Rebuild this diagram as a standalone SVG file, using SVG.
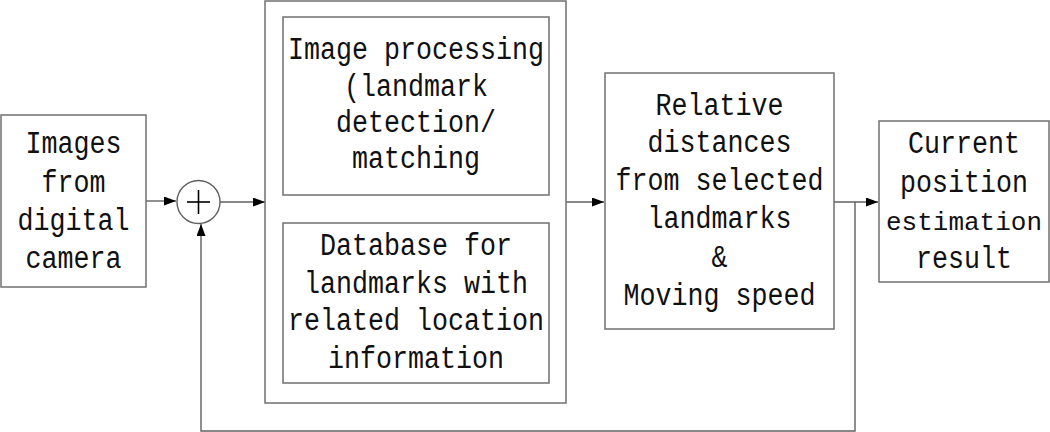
<svg xmlns="http://www.w3.org/2000/svg" width="1050" height="432" viewBox="0 0 1050 432">
<style>
.box{fill:#fff;stroke:#707070;stroke-width:1.5}
.ln{fill:none;stroke:#606060;stroke-width:1.4}
text{font-family:"Liberation Mono","DejaVu Sans Mono",monospace;font-size:31px;fill:#111;text-anchor:middle}
</style>
<defs>
<marker id="ah" markerUnits="userSpaceOnUse" markerWidth="13" markerHeight="10" refX="12" refY="4.5" orient="auto">
<path d="M0,0 L12,4.5 L0,9 z" fill="#000"/>
</marker>
</defs>
<rect width="1050" height="432" fill="#fff"/>
<g id="connectors">
<line class="ln" x1="146" y1="201" x2="176" y2="201" marker-end="url(#ah)"/>
<line class="ln" x1="220" y1="202" x2="265" y2="202" marker-end="url(#ah)"/>
<line class="ln" x1="566" y1="202" x2="604" y2="202" marker-end="url(#ah)"/>
<line class="ln" x1="834" y1="202" x2="878" y2="202" marker-end="url(#ah)"/>
<polyline class="ln" points="855,202 855,431 201,431 201,224" marker-end="url(#ah)"/>
</g>
<g id="images">
<rect class="box" x="1" y="115" width="145" height="172"/>
<text x="73.5" y="153" textLength="96" lengthAdjust="spacingAndGlyphs">Images</text>
<text x="73.5" y="192" textLength="64" lengthAdjust="spacingAndGlyphs">from</text>
<text x="73.5" y="230" textLength="112" lengthAdjust="spacingAndGlyphs">digital</text>
<text x="73.5" y="268" textLength="96" lengthAdjust="spacingAndGlyphs">camera</text>
</g>
<g id="sum">
<circle cx="198.5" cy="202" r="21.5" fill="#fff" stroke="#606060" stroke-width="1.4"/>
<line x1="187" y1="202" x2="210" y2="202" stroke="#000" stroke-width="1.6"/>
<line x1="198.5" y1="190" x2="198.5" y2="214" stroke="#000" stroke-width="1.6"/>
</g>
<g id="processing-unit">
<rect class="box" x="265" y="1" width="301" height="402"/>
</g>
<g id="image-processing">
<rect class="box" x="283" y="17" width="266" height="178"/>
<text x="416" y="59" textLength="256" lengthAdjust="spacingAndGlyphs">Image processing</text>
<text x="416" y="96" textLength="144" lengthAdjust="spacingAndGlyphs">(landmark</text>
<text x="416" y="132" textLength="160" lengthAdjust="spacingAndGlyphs">detection/</text>
<text x="416" y="168" textLength="128" lengthAdjust="spacingAndGlyphs">matching</text>
</g>
<g id="database">
<rect class="box" x="283" y="223" width="266" height="160"/>
<text x="416" y="255" textLength="192" lengthAdjust="spacingAndGlyphs">Database for</text>
<text x="416" y="293" textLength="224" lengthAdjust="spacingAndGlyphs">landmarks with</text>
<text x="416" y="330" textLength="256" lengthAdjust="spacingAndGlyphs">related location</text>
<text x="416" y="368" textLength="176" lengthAdjust="spacingAndGlyphs">information</text>
</g>
<g id="relative">
<rect class="box" x="605" y="73" width="229" height="256"/>
<text x="719.5" y="115" textLength="128" lengthAdjust="spacingAndGlyphs">Relative</text>
<text x="719.5" y="152" textLength="144" lengthAdjust="spacingAndGlyphs">distances</text>
<text x="719.5" y="190" textLength="208" lengthAdjust="spacingAndGlyphs">from selected</text>
<text x="719.5" y="228" textLength="144" lengthAdjust="spacingAndGlyphs">landmarks</text>
<text x="719.5" y="267" textLength="16" lengthAdjust="spacingAndGlyphs">&amp;</text>
<text x="719.5" y="305" textLength="192" lengthAdjust="spacingAndGlyphs">Moving speed</text>
</g>
<g id="result">
<rect class="box" x="879" y="121" width="170" height="161"/>
<text x="964" y="153" textLength="112" lengthAdjust="spacingAndGlyphs">Current</text>
<text x="964" y="192" textLength="128" lengthAdjust="spacingAndGlyphs">position</text>
<text x="964" y="230" style="font-size:26px">estimation</text>
<text x="964" y="268" textLength="96" lengthAdjust="spacingAndGlyphs">result</text>
</g>
</svg>
